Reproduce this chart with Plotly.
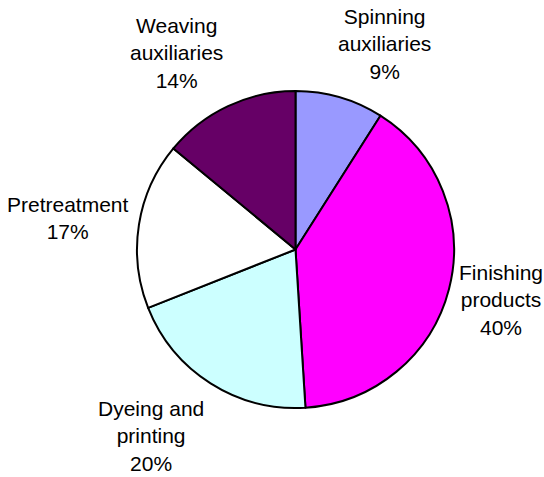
import math
import plotly.graph_objects as go

labels = ["Spinning<br>auxiliaries", "Finishing<br>products", "Dyeing and<br>printing",
          "Pretreatment", "Weaving<br>auxiliaries"]
values = [9, 40, 20, 17, 14]
colors = ["#9999FF", "#FF00FF", "#CCFFFF", "#FFFFFF", "#660066"]

W, H = 544, 477
CX, CY, R = 295.5, 249.5, 158.5   # pie centre / radius in figure pixels
LABEL_R = R + 8

fig = go.Figure(go.Pie(
    labels=labels,
    values=values,
    sort=False,
    direction="clockwise",
    rotation=0,
    marker=dict(colors=colors, line=dict(color="black", width=2)),
    textinfo="none",
    hoverinfo="skip",
    domain=dict(x=[(CX - R) / W, (CX + R) / W], y=[1 - (CY + R) / H, 1 - (CY - R) / H]),
))

total = sum(values)
cum = 0
annotations = []
for lab, v in zip(labels, values):
    theta = 2 * math.pi * (cum + v / 2) / total
    cum += v
    dx, dy = math.sin(theta), -math.cos(theta)
    px, py = CX + LABEL_R * dx, CY + LABEL_R * dy
    xa = "left" if dx > 0.2 else ("right" if dx < -0.2 else "center")
    xs = -6 if 0.2 < dx < 0.5 else 0
    if dy < -0.5:
        ya, ys = "bottom", 5
    elif dy > 0.5:
        ya, ys = "top", -5
    else:
        ya, ys = "middle", -36 * dy
    annotations.append(dict(
        x=px / W, y=1 - py / H, xref="paper", yref="paper",
        text=f"{lab}<br>{round(100 * v / total)}%",
        showarrow=False, xanchor=xa, yanchor=ya, xshift=xs, yshift=ys, align="center",
        font=dict(family="Liberation Sans, Arial, sans-serif", size=21, color="black"),
    ))

fig.update_layout(
    width=W, height=H,
    margin=dict(l=0, r=0, t=0, b=0),
    showlegend=False,
    paper_bgcolor="white",
    plot_bgcolor="white",
    annotations=annotations,
)
fig.write_html("out.html", config={"displayModeBar": False},
               post_script="document.body.style.margin='0';document.body.style.overflow='hidden';")
